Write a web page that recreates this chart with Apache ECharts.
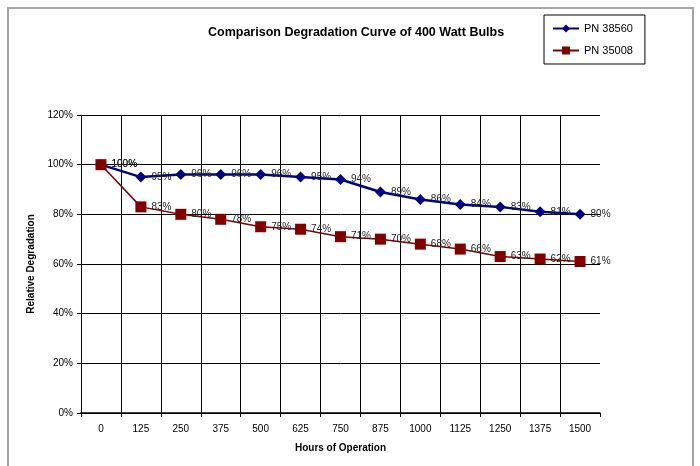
<!DOCTYPE html>
<html>
<head>
<meta charset="utf-8">
<script src="https://cdn.jsdelivr.net/npm/echarts@6/dist/echarts.min.js"></script>
<style>
  html, body { margin: 0; padding: 0; background: #fff; }
  #chart { width: 700px; height: 466px; }
</style>
</head>
<body>
<div id="chart"></div>
<script>
// hours of operation
const hours = ['0', '125', '250', '375', '500', '625', '750', '875', '1000', '1125', '1250', '1375', '1500']
// relative degradation, percent
const pn38560 = [100, 95, 96, 96, 96, 95, 94, 89, 86, 84, 83, 81, 80]
const pn35008 = [100, 83, 80, 78, 75, 74, 71, 70, 68, 66, 63, 62, 61]

const font = 'Liberation Sans, Arial, sans-serif'

let myChart = echarts.init(document.getElementById('chart'))
myChart.setOption({
  backgroundColor: '#fff',
  animation: false,
  textStyle: { fontFamily: font },
  graphic: [{
    type: 'rect',
    shape: { x: 8, y: 8, width: 685, height: 470 },
    style: { fill: 'none', stroke: '#a6a6a6', lineWidth: 2 },
    silent: true
  }],
  title: {
    text: 'Comparison Degradation Curve of 400 Watt Bulbs',
    left: 203,
    top: 21,
    textStyle: { fontSize: 12.5, fontWeight: 'bold', color: '#000', fontFamily: font }
  },
  legend: {
    orient: 'vertical',
    left: 544,
    top: 15,
    padding: [8, 12, 8, 8],
    borderColor: '#000',
    borderWidth: 1,
    itemWidth: 26,
    itemHeight: 10,
    itemGap: 11,
    textStyle: { fontSize: 11, color: '#000', fontFamily: font },
    data: ['PN 38560', 'PN 35008']
  },
  grid: { left: 81, right: 100, top: 115, bottom: 53 },
  xAxis: {
    type: 'category',
    data: hours,
    boundaryGap: true,
    name: 'Hours of Operation',
    nameLocation: 'middle',
    nameGap: 30,
    nameTextStyle: { fontSize: 10, fontWeight: 'bold', color: '#000' },
    axisLine: { lineStyle: { color: '#000', width: 1.5 } },
    axisTick: { show: true, length: 4, lineStyle: { color: '#000' } },
    axisLabel: { fontSize: 10, color: '#000', margin: 11 },
    splitLine: { show: true, showMinLine: false, showMaxLine: false, lineStyle: { color: '#000', width: 1 } }
  },
  yAxis: {
    type: 'value',
    min: 0,
    max: 120,
    interval: 20,
    name: 'Relative Degradation',
    nameLocation: 'middle',
    nameGap: 42,
    nameTextStyle: { fontSize: 10, fontWeight: 'bold', color: '#000' },
    axisLine: { show: true, lineStyle: { color: '#000', width: 1 } },
    axisTick: { show: true, length: 4, lineStyle: { color: '#000' } },
    axisLabel: { fontSize: 10, color: '#000', margin: 8, formatter: '{value}%' },
    splitLine: { show: true, lineStyle: { color: '#000', width: 1 } }
  },
  series: [
    {
      name: 'PN 38560',
      type: 'line',
      data: pn38560,
      symbol: 'diamond',
      symbolSize: 11,
      color: '#000080',
      lineStyle: { color: '#000080', width: 2.5 },
      itemStyle: { color: '#000080' },
      label: { show: true, position: 'right', distance: 5, formatter: '{c}%', fontSize: 10, color: '#222' }
    },
    {
      name: 'PN 35008',
      type: 'line',
      data: pn35008,
      symbol: 'rect',
      symbolSize: 11,
      color: '#800000',
      lineStyle: { color: '#800000', width: 1.5 },
      itemStyle: { color: '#800000' },
      label: { show: true, position: 'right', distance: 5, formatter: '{c}%', fontSize: 10, color: '#222' }
    }
  ]
})
</script>
</body>
</html>
